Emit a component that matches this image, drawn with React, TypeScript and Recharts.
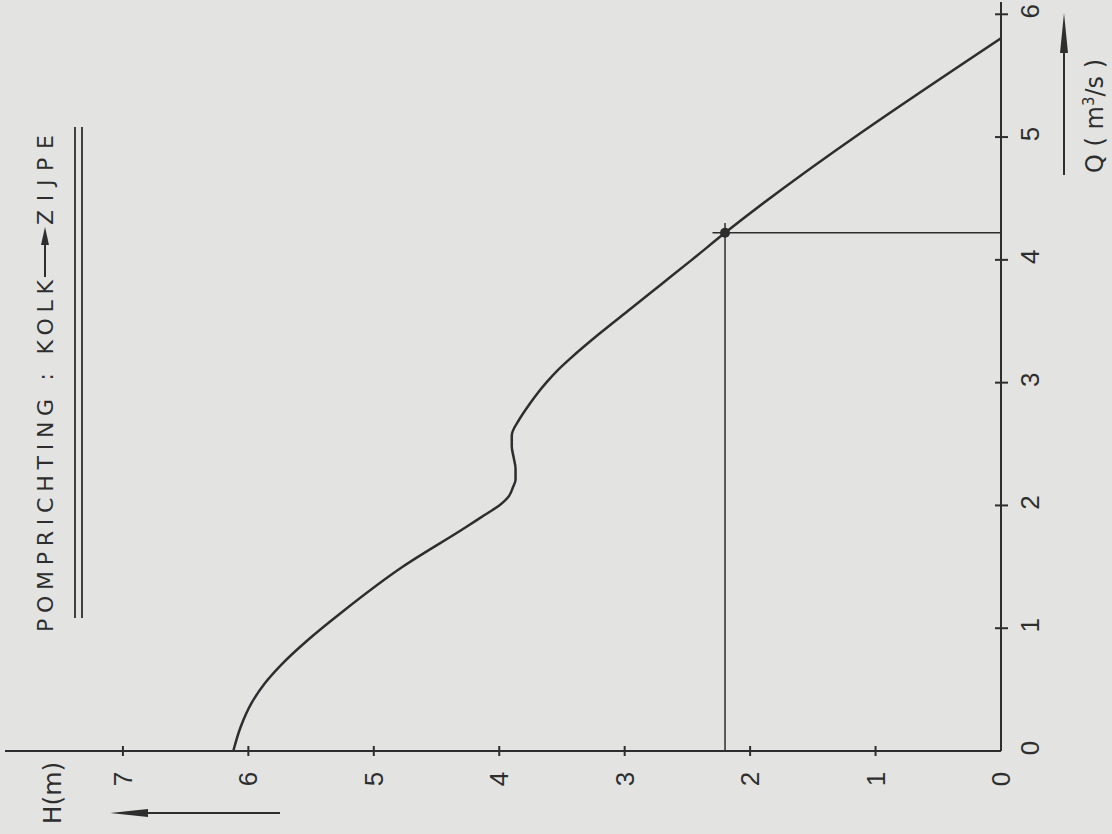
import React from 'react';
import { LineChart, Line, XAxis, YAxis, ReferenceLine, ReferenceDot } from 'recharts';

// pump curve: Q in m3/s, H in m
const qValues = [0, 0.2, 0.39, 0.55, 0.7, 0.9, 1.13, 1.5, 1.82, 1.92, 2.0, 2.08, 2.15, 2.21, 2.3, 2.39, 2.48, 2.57, 2.7, 2.83, 2.92, 3.0, 3.1, 3.2, 3.4, 3.6, 3.8, 4.0, 4.22, 5.86];
const hValues = [6.12, 6.06, 5.975, 5.87, 5.74, 5.53, 5.255, 4.77, 4.27, 4.12, 4.0, 3.92, 3.89, 3.87, 3.87, 3.885, 3.9, 3.9, 3.84, 3.755, 3.69, 3.625, 3.535, 3.43, 3.2, 2.955, 2.71, 2.465, 2.2, -0.08];

const qTicks = [0, 1, 2, 3, 4, 5, 6];
const hTicks = [0, 1, 2, 3, 4, 5, 6, 7];

// operating point
const opQ = 4.22;
const opH = 2.2;

const data = qValues.map((q, i) => ({ q, h: hValues[i] }));

const INK = '#2e2e2e';
const PAPER = '#e3e4e1';
const DIGITS = '"Liberation Sans Narrow", "Liberation Sans", Arial, sans-serif';
const LETTERS = '"DejaVu Sans", "Liberation Sans", sans-serif';

// chart is drawn upright and then turned a quarter turn to the left
const W = 834;
const H = 1112;

const QTick = (props: any) => {
  const { x, y, payload } = props;
  return (
    <g>
      {payload.value !== 0 && <line x1={x} y1={y - 6} x2={x} y2={y + 7} stroke={INK} strokeWidth={2} />}
      <text x={x + 3} y={y + 29} textAnchor="middle" dominantBaseline="central" fontSize={26} fontFamily={DIGITS} fill={INK}>
        {payload.value}
      </text>
    </g>
  );
};

const HTick = (props: any) => {
  const { x, y, payload } = props;
  return (
    <g>
      {payload.value !== 0 && <line x1={x - 5} y1={y} x2={x + 5} y2={y} stroke={INK} strokeWidth={2} />}
      <text x={x - 28} y={y} textAnchor="middle" dominantBaseline="central" fontSize={26} fontFamily={DIGITS} fill={INK}>
        {payload.value}
      </text>
    </g>
  );
};

const Decorations = () => (
  <svg width={W} height={H} style={{ position: 'absolute', left: 0, top: 0, pointerEvents: 'none' }}>
    {/* title */}
    <text x={202} y={53} fontSize={22} fontFamily={LETTERS} fill={INK} textLength={352} lengthAdjust="spacing">
      POMPRICHTING : KOLK
    </text>
    <line x1={557} y1={45} x2={592} y2={45} stroke={INK} strokeWidth={2} />
    <polygon points="607,45 589,41 589,49" fill={INK} />
    <text x={609} y={53} fontSize={22} fontFamily={LETTERS} fill={INK} textLength={90} lengthAdjust="spacing">
      ZIJPE
    </text>
    <line x1={216} y1={75} x2={707} y2={75} stroke={INK} strokeWidth={1.8} />
    <line x1={216} y1={82} x2={707} y2={82} stroke={INK} strokeWidth={1.8} />

    {/* H label + arrow */}
    <text x={41} y={61} textAnchor="middle" fontSize={25} fontFamily={LETTERS} fill={INK}>
      H(m)
    </text>
    <line x1={21} y1={280} x2={21} y2={140} stroke={INK} strokeWidth={2} />
    <polygon points="21,110 17,148 25,148" fill={INK} />

    {/* Q label + arrow */}
    <text x={661} y={1103} fontSize={24} fontFamily={LETTERS} fill={INK}>
      <tspan>Q ( m</tspan>
      <tspan dy={-9} fontSize={15}>3</tspan>
      <tspan dy={9}>/s )</tspan>
    </text>
    <line x1={659} y1={1064} x2={790} y2={1064} stroke={INK} strokeWidth={2} />
    <polygon points="821,1064 781,1060 781,1068" fill={INK} />
  </svg>
);

export default function App() {
  return (
    <div style={{ position: 'absolute', left: 0, top: 0, width: 1112, height: 834, background: PAPER, overflow: 'hidden' }}>
      <div
        style={{
          position: 'absolute',
          width: W,
          height: H,
          left: (1112 - W) / 2,
          top: (834 - H) / 2,
          transform: 'rotate(-90deg)',
        }}
      >
        <LineChart width={W} height={H} data={data} margin={{ top: 5, right: 2, bottom: 71, left: 43 }}>
          <XAxis
            dataKey="q"
            type="number"
            domain={[0, 6.1]}
            ticks={qTicks}
            interval={0}
            height={40}
            tickSize={0}
            tickMargin={0}
            tickLine={false}
            tick={<QTick />}
            axisLine={{ stroke: INK, strokeWidth: 2 }}
          />
          <YAxis
            type="number"
            domain={[0, 7.94]}
            allowDataOverflow
            ticks={hTicks}
            interval={0}
            width={40}
            tickSize={0}
            tickMargin={0}
            tickLine={false}
            tick={<HTick />}
            axisLine={{ stroke: INK, strokeWidth: 2 }}
          />
          <ReferenceLine segment={[{ x: 0, y: opH }, { x: opQ + 0.08, y: opH }]} stroke={INK} strokeWidth={1.5} />
          <ReferenceLine segment={[{ x: opQ, y: 0 }, { x: opQ, y: opH + 0.1 }]} stroke={INK} strokeWidth={1.5} />
          <Line
            dataKey="h"
            type="monotone"
            stroke={INK}
            strokeWidth={2.5}
            dot={false}
            activeDot={false}
            isAnimationActive={false}
          />
          <ReferenceDot x={opQ} y={opH} r={5} fill={INK} stroke="none" />
        </LineChart>
        <Decorations />
      </div>
    </div>
  );
}
